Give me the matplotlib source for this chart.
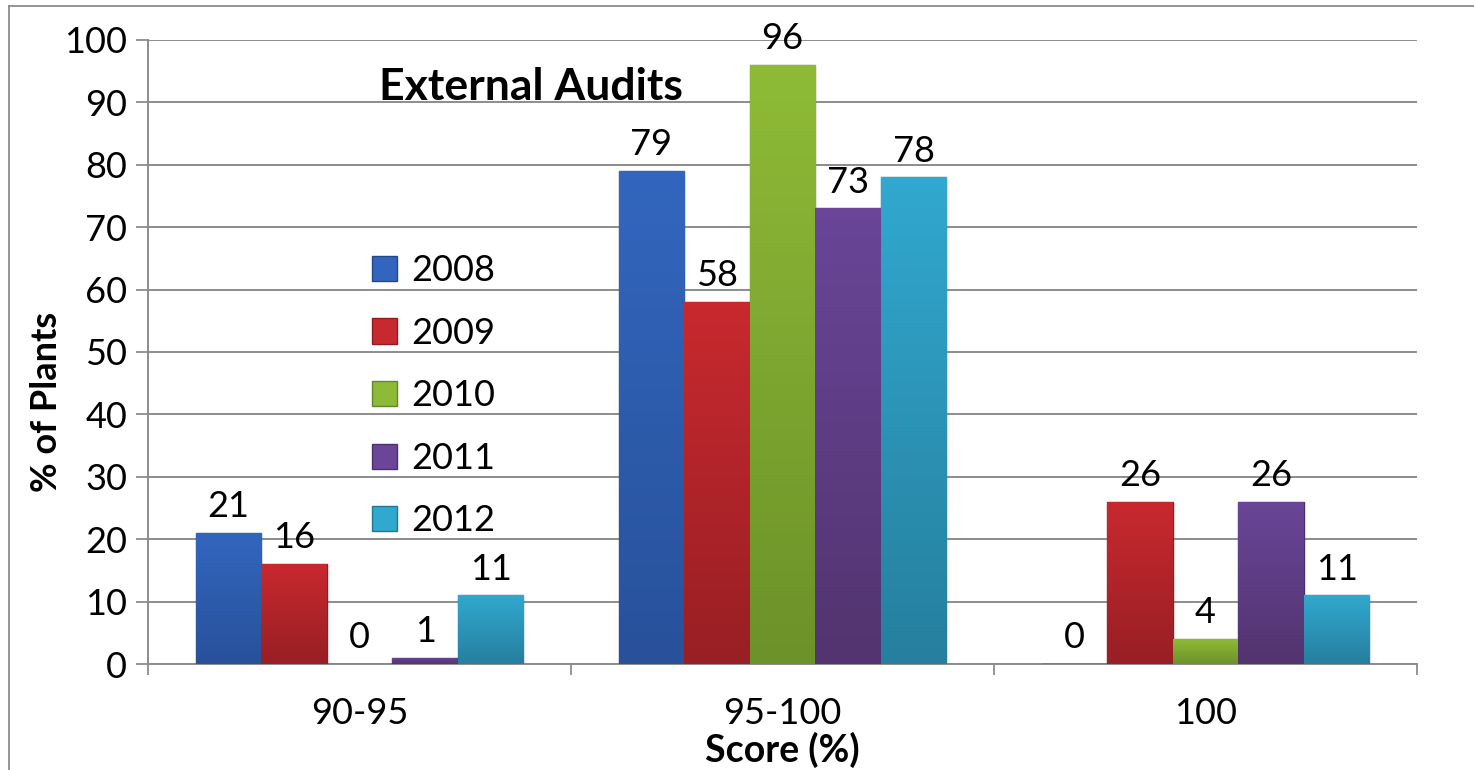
import matplotlib.pyplot as plt
from matplotlib.lines import Line2D
from matplotlib.colors import LinearSegmentedColormap
import numpy as np

plt.rcParams['font.family'] = ['Lato', 'DejaVu Sans']

categories = ['90-95', '95-100', '100']
years = ['2008', '2009', '2010', '2011', '2012']
values = {
    '2008': [21, 79, 0],
    '2009': [16, 58, 26],
    '2010': [0, 96, 4],
    '2011': [1, 73, 26],
    '2012': [11, 78, 11],
}
colors = ['#3266BE', '#C8292F', '#8EBB37', '#6A4598', '#31A8CF']
darks = ['#28519a', '#981f24', '#6c9229', '#52346f', '#267f9e']
edges = ['#22488a', '#8e1c20', '#64852a', '#4a3070', '#217890']

fig = plt.figure(figsize=(14.74, 7.7), dpi=100)
ax = fig.add_axes([148 / 1474, 1 - 664 / 770, 1269 / 1474, 624 / 770])

x = np.arange(len(categories))
w = 0.155
grad = np.linspace(1, 0, 64).reshape(-1, 1)
for i, yr in enumerate(years):
    pos = x + (i - 2) * w
    bars = ax.bar(pos, values[yr], width=w, color=colors[i], edgecolor=edges[i],
                  linewidth=1.0, label=yr, zorder=3)
    cmap = LinearSegmentedColormap.from_list('g', [darks[i], colors[i]])
    for b, v in zip(bars, values[yr]):
        if v > 0:
            im = ax.imshow(grad, cmap=cmap, aspect='auto', zorder=3.1,
                           extent=[b.get_x(), b.get_x() + w, 0, v])
            im.set_clip_path(b)
        ax.annotate(str(v), (b.get_x() + w / 2, v), xytext=(0, 7),
                    textcoords='offset points', ha='center', va='bottom',
                    fontsize=26, zorder=4)

ax.set_xlim(-0.5, 2.5)
ax.set_ylim(0, 100)
ax.set_yticks(range(0, 101, 10))
ax.set_xticks(x)
ax.set_xticklabels(categories)
ax.set_xticks([-0.5, 0.5, 1.5, 2.5], minor=True)
ax.tick_params(axis='x', which='major', length=0, labelsize=26, pad=24)
ax.tick_params(axis='x', which='minor', length=8, width=1.3, color='#8c8c8c')
ax.tick_params(axis='y', length=9, width=1.3, color='#8c8c8c', labelsize=26, pad=6)
ax.yaxis.grid(True, color='#8c8c8c', linewidth=1.4, zorder=0)
ax.set_axisbelow(True)
for s in ['top', 'right']:
    ax.spines[s].set_visible(False)
for s in ['left', 'bottom']:
    ax.spines[s].set_color('#8c8c8c')
    ax.spines[s].set_linewidth(1.4)

ax.set_ylabel('% of Plants', fontsize=26, fontweight='bold')
ax.yaxis.set_label_coords(-0.067, 0.42)
ax.set_xlabel('Score (%)', fontsize=27, fontweight='bold')
ax.xaxis.set_label_coords(0.5, -0.108)
ax.text(0.182, 0.925, 'External Audits', transform=ax.transAxes,
        fontsize=32, fontweight='bold', ha='left', va='center')

ax.legend(loc='upper left', bbox_to_anchor=(0.162, 0.686), frameon=False,
          fontsize=26, handlelength=0.7, handleheight=0.7, handletextpad=0.4,
          labelspacing=0.82, borderpad=0)

# slide frame
fig.add_artist(Line2D([9 / 1474, 9 / 1474], [0, 1 - 6 / 770], color='#8c8c8c', lw=1.3))
fig.add_artist(Line2D([9 / 1474, 1], [1 - 6 / 770, 1 - 6 / 770], color='#8c8c8c', lw=1.3))

fig.savefig('out.png', dpi=100)
